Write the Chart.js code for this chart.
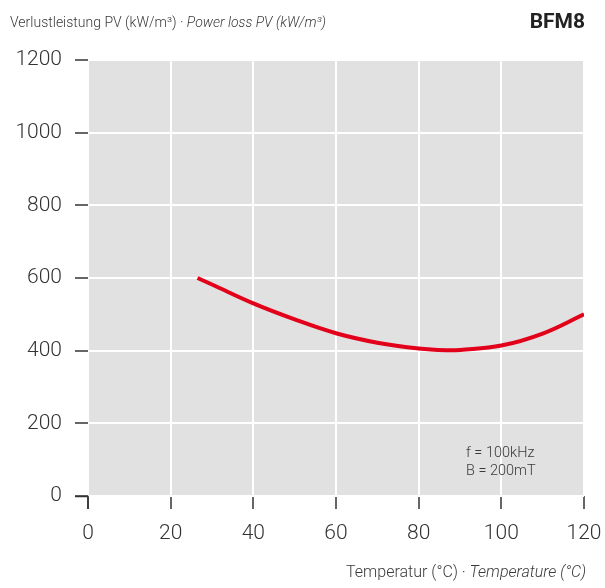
<!DOCTYPE html>
<html>
<head>
<meta charset="utf-8">
<script src="https://cdn.jsdelivr.net/npm/chart.js@4"></script>
<style>
  html, body { margin: 0; padding: 0; background: #fff; }
  #wrap { width: 605px; height: 588px; }
</style>
</head>
<body>
<div id="wrap"><canvas id="grafico" width="605" height="588"></canvas></div>
<script>
// data
const temperaturas = [26.5, 30, 40, 50, 60, 70, 80, 87, 90, 100, 110, 120];
const perdas = [600, 582, 530, 486, 448, 422, 406, 401, 402, 414, 447, 500];
const tituloY = ["Verlustleistung PV (kW/m³) · ", "Power loss PV (kW/m³)"];
const tituloX = ["Temperatur (°C) · ", "Temperature (°C)"];
const material = "BFM8";
const condicoes = ["f = 100kHz", "B = 200mT"];

const fonte = "Roboto, 'Liberation Sans', sans-serif";

const textos = {
  id: "textos",
  beforeDraw(chart) {
    const { ctx, chartArea: a } = chart;
    ctx.save();
    ctx.fillStyle = "#e1e1e1";
    ctx.fillRect(a.left, a.top, a.right - a.left, a.bottom - a.top);
    ctx.restore();
  },
  afterDraw(chart) {
    const { ctx, chartArea: a } = chart;
    ctx.save();
    ctx.fillStyle = "#3a3a3a";
    ctx.textBaseline = "alphabetic";

    // titulo do eixo y
    ctx.textAlign = "left";
    ctx.font = "300 14px " + fonte;
    ctx.fillText(tituloY[0], 10, 27);
    let w = ctx.measureText(tituloY[0]).width;
    ctx.font = "italic 300 14px " + fonte;
    ctx.fillText(tituloY[1], 10 + w, 27);

    // material
    ctx.textAlign = "right";
    ctx.fillStyle = "#222";
    ctx.font = "bold 21px " + fonte;
    ctx.fillText(material, 585, 28);

    // titulo do eixo x
    ctx.fillStyle = "#3a3a3a";
    ctx.font = "italic 300 16px " + fonte;
    const w2 = ctx.measureText(tituloX[1]).width;
    ctx.fillText(tituloX[1], 586, 577);
    ctx.font = "300 16px " + fonte;
    ctx.fillText(tituloX[0], 586 - w2, 577);

    // condicoes
    ctx.textAlign = "left";
    ctx.font = "300 14.5px " + fonte;
    ctx.fillText(condicoes[0], 466, 457);
    ctx.fillText(condicoes[1], 466, 475);

    // canto no zero
    ctx.strokeStyle = "#333";
    ctx.lineWidth = 1.5;
    ctx.beginPath();
    ctx.moveTo(a.left - 13, a.bottom + 0.5);
    ctx.lineTo(a.left, a.bottom + 0.5);
    ctx.lineTo(a.left, a.bottom + 13);
    ctx.stroke();
    ctx.restore();
  }
};

new Chart(document.getElementById("grafico"), {
  type: "scatter",
  data: {
    datasets: [{
      data: temperaturas.map((t, i) => ({ x: t, y: perdas[i] })),
      showLine: true,
      borderColor: "#e2001a",
      borderWidth: 4,
      pointRadius: 0,
      tension: 0.4,
      borderCapStyle: "butt"
    }]
  },
  options: {
    responsive: false,
    animation: false,
    layout: { padding: { left: 0, top: 60, right: 21, bottom: 0 } },
    plugins: { legend: { display: false }, tooltip: { enabled: false } },
    scales: {
      x: {
        type: "linear",
        min: 0,
        max: 120,
        afterFit: (s) => { s.height = 92; s.paddingRight = 0; s.paddingLeft = 0; },
        ticks: { stepSize: 20, color: "#333", padding: 12, font: { family: fonte, size: 21, weight: 300 },
          callback: (v) => String(v) },
        grid: { color: "#fff", lineWidth: 2, tickColor: "#333", tickLength: 13, tickWidth: 1.5 },
        border: { display: false }
      },
      y: {
        min: 0,
        max: 1200,
        afterFit: (s) => { s.width = 88; s.paddingTop = 0; s.paddingBottom = 0; },
        ticks: { stepSize: 200, color: "#333", padding: 13, font: { family: fonte, size: 21, weight: 300 },
          callback: (v) => String(v) },
        grid: { color: "#fff", lineWidth: 2, tickColor: "#333", tickLength: 13, tickWidth: 1.5 },
        border: { display: false }
      }
    }
  },
  plugins: [textos]
});
</script>
</body>
</html>
